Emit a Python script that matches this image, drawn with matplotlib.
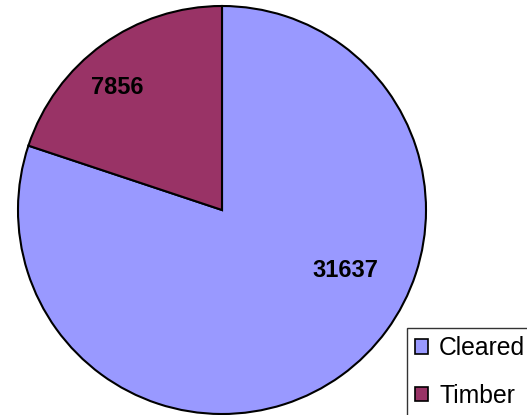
import matplotlib
matplotlib.use("Agg")
import matplotlib.pyplot as plt

labels = ["Cleared", "Timber"]
values = [31637, 7856]
colors = ["#9999FF", "#993366"]

plt.rcParams["font.family"] = ["Liberation Sans", "DejaVu Sans"]

fig = plt.figure(figsize=(5.27, 4.15), dpi=100)
# square axes holding just the pie
ax = fig.add_axes([18 / 527, 1 / 415, 408 / 527, 408 / 415])
wedges, _ = ax.pie(values, colors=colors, startangle=90, counterclock=False,
                   wedgeprops=dict(edgecolor="black", linewidth=1.5))
ax.set_xlim(-1.0, 1.0)
ax.set_ylim(-1.0, 1.0)

# value labels
ax.text(-0.515, 0.60, str(values[1]), ha="center", va="center",
        fontsize=17, fontweight="bold")
ax.text(0.605, -0.295, str(values[0]), ha="center", va="center",
        fontsize=17, fontweight="bold")

leg = fig.legend(wedges, labels, loc="upper left",
                 bbox_to_anchor=(407 / 527, 1 - 328 / 415),
                 fontsize=17.8, frameon=True, fancybox=False,
                 handlelength=0.52, handleheight=0.52, handletextpad=0.45,
                 labelspacing=0.95, borderpad=0.33, borderaxespad=0)
leg.get_frame().set_edgecolor("black")
leg.get_frame().set_linewidth(1.0)
for h in leg.legend_handles:
    h.set_edgecolor("black")
    h.set_linewidth(1.2)

fig.savefig("out.png", dpi=100)
